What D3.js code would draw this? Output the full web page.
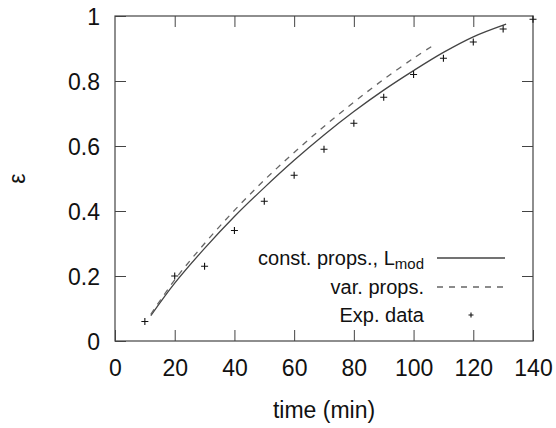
<!DOCTYPE html>
<html lang="en">
<head>
<meta charset="UTF-8">
<title>epsilon vs time</title>
<script src="https://cdn.jsdelivr.net/npm/d3@7"></script>
<style>
  body { margin: 0; background: #fff; }
  svg { font-family: "Liberation Sans", Arial, sans-serif; }
</style>
</head>
<body>
<script>
// experimental points
const timeExp = [10, 20, 30, 40, 50, 60, 70, 80, 90, 100, 110, 120, 130, 140]
const epsExp = [0.06, 0.20, 0.23, 0.34, 0.43, 0.51, 0.59, 0.67, 0.75, 0.82, 0.87, 0.92, 0.96, 0.99]

// const. props., L_mod (solid)
const timeConst = [12, 20, 30, 40, 50, 60, 70, 80, 90, 100, 110, 120, 131]
const epsConst = [0.078, 0.178, 0.285, 0.383, 0.472, 0.556, 0.634, 0.706, 0.772, 0.832, 0.888, 0.936, 0.975]

// var. props. (dashed)
const timeVar = [12, 20, 30, 40, 50, 60, 70, 80, 90, 100, 106]
const epsVar = [0.082, 0.188, 0.30, 0.402, 0.495, 0.58, 0.66, 0.735, 0.805, 0.87, 0.906]

const xTicks = [0, 20, 40, 60, 80, 100, 120, 140]
const yTicks = [0, 0.2, 0.4, 0.6, 0.8, 1]

const width = 556
const height = 428
const margin = { top: 16, right: 23, bottom: 87, left: 115 }

const svg = d3.select('body').append('svg')
  .attr('width', width)
  .attr('height', height)

const x = d3.scaleLinear().domain([0, 140]).range([margin.left, width - margin.right])
const y = d3.scaleLinear().domain([0, 1]).range([height - margin.bottom, margin.top])

const frameColor = '#444'

function styleAxis(g) {
  g.select('.domain').remove()
  g.selectAll('line').attr('stroke', frameColor)
  g.selectAll('text').attr('fill', '#111').attr('font-size', 23)
}

// bottom / left with labels, inward ticks
svg.append('g')
  .attr('transform', `translate(0,${y(0)})`)
  .call(d3.axisBottom(x).tickValues(xTicks).tickFormat(d3.format('d')).tickSizeInner(-11).tickSizeOuter(0).tickPadding(19))
  .call(styleAxis)

svg.append('g')
  .attr('transform', `translate(${x(0)},0)`)
  .call(d3.axisLeft(y).tickValues(yTicks).tickFormat(d => d === 0 || d === 1 ? d : d3.format('.1f')(d)).tickSizeInner(-11).tickSizeOuter(0).tickPadding(15))
  .call(styleAxis)
  .selectAll('text').attr('dy', '0.36em')

// mirror ticks top / right
svg.append('g')
  .attr('transform', `translate(0,${y(1)})`)
  .call(d3.axisTop(x).tickValues(xTicks.slice(1, -1)).tickFormat('').tickSizeInner(-11).tickSizeOuter(0))
  .call(styleAxis)

svg.append('g')
  .attr('transform', `translate(${x(140)},0)`)
  .call(d3.axisRight(y).tickValues(yTicks.slice(1, -1)).tickFormat('').tickSizeInner(-11).tickSizeOuter(0))
  .call(styleAxis)

// frame
svg.append('rect')
  .attr('x', x(0))
  .attr('y', y(1))
  .attr('width', x(140) - x(0))
  .attr('height', y(0) - y(1))
  .attr('fill', 'none')
  .attr('stroke', frameColor)
  .attr('stroke-width', 1.2)

const line = d3.line()
  .x(d => x(d[0]))
  .y(d => y(d[1]))
  .curve(d3.curveCatmullRom)

svg.append('path')
  .datum(d3.zip(timeConst, epsConst))
  .attr('d', line)
  .attr('fill', 'none')
  .attr('stroke', '#444')
  .attr('stroke-width', 1.3)

svg.append('path')
  .datum(d3.zip(timeVar, epsVar))
  .attr('d', line)
  .attr('fill', 'none')
  .attr('stroke', '#666')
  .attr('stroke-width', 1.3)
  .attr('stroke-dasharray', '6,6')

function plus(g, cx, cy, r) {
  g.append('path')
    .attr('d', `M${cx - r},${cy}H${cx + r}M${cx},${cy - r}V${cy + r}`)
    .attr('stroke', '#111')
    .attr('stroke-width', 1.1)
}

const pts = svg.append('g')
d3.zip(timeExp, epsExp).forEach(d => plus(pts, x(d[0]), y(d[1]), 3.5))

// axis titles
svg.append('text')
  .attr('x', (x(0) + x(140)) / 2)
  .attr('y', 418)
  .attr('text-anchor', 'middle')
  .attr('font-size', 23)
  .attr('fill', '#111')
  .text('time (min)')

svg.append('text')
  .attr('transform', `translate(25,${(y(0) + y(1)) / 2}) rotate(-90)`)
  .attr('text-anchor', 'middle')
  .attr('font-size', 23)
  .attr('fill', '#111')
  .text('ε')

// legend
const legX = 424
const sampleX0 = 437
const sampleX1 = 505
const legRows = [258, 287, 315]

const t1 = svg.append('text')
  .attr('x', legX)
  .attr('y', legRows[0])
  .attr('dy', '0.35em')
  .attr('text-anchor', 'end')
  .attr('font-size', 20)
  .attr('fill', '#111')
t1.append('tspan').text('const. props., L')
t1.append('tspan').attr('dy', 4).attr('font-size', 15).text('mod')

svg.append('line')
  .attr('x1', sampleX0).attr('x2', sampleX1)
  .attr('y1', legRows[0]).attr('y2', legRows[0])
  .attr('stroke', '#444').attr('stroke-width', 1.3)

svg.append('text')
  .attr('x', legX)
  .attr('y', legRows[1])
  .attr('dy', '0.35em')
  .attr('text-anchor', 'end')
  .attr('font-size', 20)
  .attr('fill', '#111')
  .text('var. props.')

svg.append('line')
  .attr('x1', sampleX0).attr('x2', sampleX1)
  .attr('y1', legRows[1]).attr('y2', legRows[1])
  .attr('stroke', '#666').attr('stroke-width', 1.3)
  .attr('stroke-dasharray', '6,6')

svg.append('text')
  .attr('x', legX)
  .attr('y', legRows[2])
  .attr('dy', '0.35em')
  .attr('text-anchor', 'end')
  .attr('font-size', 20)
  .attr('fill', '#111')
  .text('Exp. data')

plus(svg, (sampleX0 + sampleX1) / 2, legRows[2], 2.5)
</script>
</body>
</html>
